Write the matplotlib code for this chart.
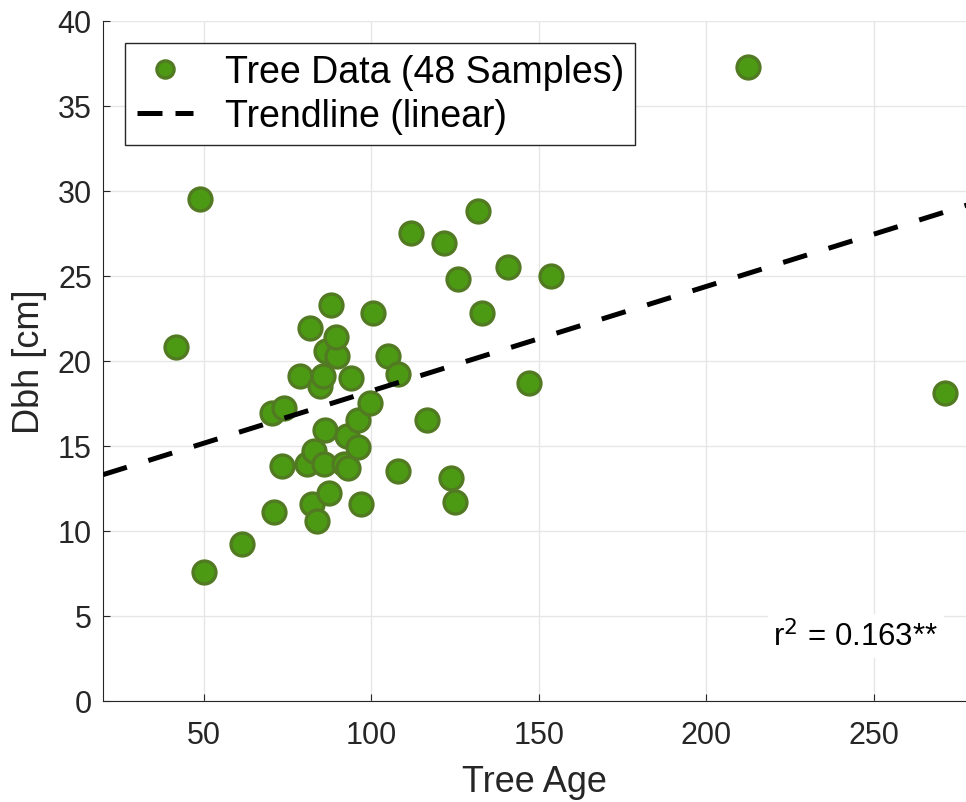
import numpy as np
import matplotlib
matplotlib.use('Agg')
import matplotlib.pyplot as plt

plt.rcParams['font.family'] = ['Liberation Sans', 'DejaVu Sans']

# tree age vs diameter at breast height
age = [212.6, 48.8, 41.9, 50.0, 61.6, 70.9, 70.3, 73.9, 73.3, 78.9,
       81.9, 81.0, 83.1, 82.5, 84.0, 84.9, 85.5, 86.4, 85.8, 86.1,
       87.3, 87.9, 89.7, 89.4, 91.8, 93.0, 92.7, 93.9, 96.0, 96.0,
       96.9, 99.8, 100.7, 104.9, 107.9, 107.9, 111.8, 116.8, 121.9, 123.7,
       124.9, 125.8, 131.8, 133.0, 140.7, 147.0, 153.8, 271.1]
dbh = [37.3, 29.5, 20.8, 7.6, 9.2, 11.1, 16.9, 17.2, 13.8, 19.1,
       21.9, 13.9, 14.7, 11.6, 10.6, 18.5, 19.1, 20.6, 13.9, 15.9,
       12.2, 23.3, 20.3, 21.4, 13.9, 13.7, 15.6, 19.0, 14.9, 16.5,
       11.6, 17.5, 22.8, 20.3, 19.2, 13.5, 27.5, 16.5, 26.9, 13.1,
       11.7, 24.8, 28.8, 22.8, 25.5, 18.7, 25.0, 18.1]

slope = 0.0615
intercept = 12.07
r2_label = '0.163**'

fig = plt.figure(figsize=(9.66, 8.03), dpi=100)
ax = fig.add_axes([0.1066, 0.126, 0.8934, 0.847])

xs = np.array([20, 280])
ax.plot(age, dbh, 'o', ms=16.5, mfc='#4C9A14', mec='#527A22', mew=2.4,
        label='Tree Data (48 Samples)', zorder=3)
ax.plot(xs, slope * xs + intercept, color='black', lw=3.6, dashes=(5, 4.5),
        label='Trendline (linear)', zorder=4)

ax.set_xlim(20, 277.5)
ax.set_ylim(0, 40)
ax.set_xticks([50, 100, 150, 200, 250])
ax.set_yticks(range(0, 41, 5))
ax.grid(True, color='#e6e6e6', lw=1)
ax.set_axisbelow(True)
for s in ['top', 'right']:
    ax.spines[s].set_visible(False)
for s in ['left', 'bottom']:
    ax.spines[s].set_color('#262626')
ax.tick_params(direction='in', labelsize=22, length=5, color='#262626',
               labelcolor='#262626')
ax.tick_params(axis='x', pad=14)
ax.tick_params(axis='y', pad=8)
ax.set_xlabel('Tree Age', fontsize=26, color='#262626', labelpad=10)
ax.set_ylabel('Dbh [cm]', fontsize=26, color='#262626', labelpad=8)

ax.text(244.6, 3.8, 'r$^2$ = ' + r2_label, fontsize=22.5, ha='center', va='center',
        bbox=dict(facecolor='white', edgecolor='none', pad=4))

leg = ax.legend(loc='upper left', fontsize=27, frameon=True, fancybox=False,
                edgecolor='#262626', framealpha=1, markerscale=0.75,
                handlelength=1.5, handletextpad=0.85, labelspacing=0.2,
                borderpad=0.3, borderaxespad=0.6)
leg.get_frame().set_linewidth(1)
leg.get_lines()[1].set_dashes((5, 2.6))

fig.savefig('out.png', dpi=100)
